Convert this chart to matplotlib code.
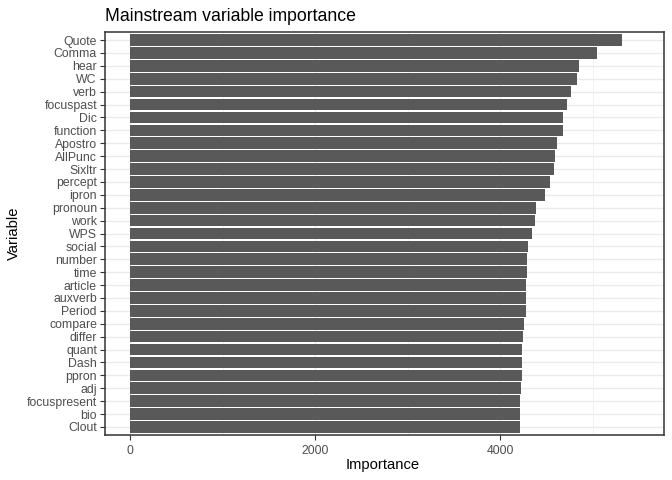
import matplotlib
matplotlib.use("Agg")
import matplotlib.pyplot as plt
from matplotlib.ticker import MultipleLocator

variables = ["Quote", "Comma", "hear", "WC", "verb", "focuspast", "Dic", "function",
             "Apostro", "AllPunc", "Sixltr", "percept", "ipron", "pronoun", "work", "WPS",
             "social", "number", "time", "article", "auxverb", "Period", "compare", "differ",
             "quant", "Dash", "ppron", "adj", "focuspresent", "bio", "Clout"]
importance = [5313, 5043, 4849, 4827, 4762, 4719, 4676, 4676,
              4611, 4590, 4579, 4536, 4482, 4384, 4374, 4341,
              4298, 4287, 4287, 4276, 4276, 4276, 4255, 4244,
              4233, 4233, 4233, 4222, 4212, 4212, 4212]
x_ticks = [0, 2000, 4000]

plt.rcParams['font.family'] = ['Liberation Sans', 'DejaVu Sans']

fig = plt.figure(figsize=(6.72, 4.8), dpi=100)
ax = fig.add_axes([104.7/672, 1-434.7/480, (664.3-104.7)/672, (434.7-32.3)/480])

n = len(variables)
ypos = list(range(n, 0, -1))

# grid
ax.set_axisbelow(True)
ax.xaxis.set_minor_locator(MultipleLocator(1000))
ax.grid(axis='x', which='major', color='#EBEBEB', linewidth=1.0)
ax.grid(axis='x', which='minor', color='#EBEBEB', linewidth=0.5)
ax.grid(axis='y', which='major', color='#EBEBEB', linewidth=1.0)

ax.barh(ypos, importance, height=0.9, color='#595959', zorder=2)

ax.set_xlim(-275, 5775)
ax.set_ylim(0.4, n + 0.6)
ax.set_xticks(x_ticks)
ax.set_xticklabels([str(t) for t in x_ticks])
ax.set_yticks(ypos)
ax.set_yticklabels(variables)

ax.tick_params(axis='both', which='major', colors='#333333', labelcolor='#4D4D4D',
               labelsize=8.8, length=3.6, width=0.8)
ax.tick_params(axis='x', which='minor', length=0)
ax.tick_params(axis='y', pad=2.0)
ax.tick_params(axis='x', pad=3.5)

for s in ax.spines.values():
    s.set_color('#333333')
    s.set_linewidth(1.1)

ax.set_xlabel("Importance", fontsize=10.6, color='black')
ax.set_ylabel("Variable", fontsize=10.6, color='black')
ax.xaxis.set_label_coords((383 - 104.7) / 559.6, (434.7 - 464.5) / 402.4)
ax.xaxis.label.set_va('center')
ax.yaxis.set_label_coords((14 - 104.7) / 559.6, 0.5)
ax.yaxis.label.set_va('center')
ax.set_title("Mainstream variable importance", fontsize=12.7, loc='left', color='black', pad=8)

fig.savefig("out.png", dpi=100)
